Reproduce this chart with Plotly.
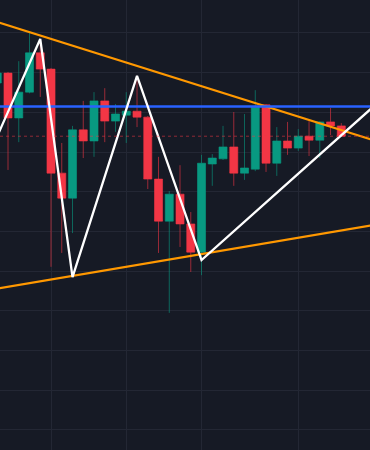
import numpy as np
import plotly.graph_objects as go

# Candle index and OHLC values
idx = list(range(33))
open_ = [187.4, 189.9, 178.6, 185.1, 195.0, 190.9, 164.7, 158.4, 175.6, 172.8,
         182.9, 177.8, 179.3, 180.3, 178.8, 163.2, 152.6, 159.4, 151.9, 144.8,
         167.0, 168.3, 171.3, 164.7, 165.7, 181.9, 167.2, 172.8, 171.0, 174.0,
         173.0, 177.6, 176.6]
high = [190.7, 190.2, 192.9, 200.2, 198.5, 191.2, 172.3, 176.6, 182.9, 185.1,
        186.1, 182.1, 185.1, 189.2, 179.1, 168.8, 160.2, 166.7, 154.9, 169.3,
        169.5, 176.6, 180.1, 179.6, 185.6, 182.1, 176.3, 177.6, 175.8, 177.8,
        177.8, 181.1, 177.3]
low = [186.6, 165.5, 172.5, 184.8, 183.9, 141.1, 144.6, 149.6, 168.5, 168.8,
       172.5, 175.1, 172.3, 176.3, 160.7, 144.6, 129.5, 146.1, 139.8, 139.0,
       161.5, 168.0, 161.5, 163.0, 165.2, 165.0, 164.0, 169.3, 170.3, 169.0,
       168.5, 174.3, 173.8]
close = [189.9, 178.6, 185.1, 195.0, 190.9, 164.7, 158.4, 175.6, 172.8, 182.9,
         177.8, 179.6, 180.3, 178.8, 163.2, 152.6, 159.4, 151.9, 144.8, 167.2,
         168.5, 171.3, 164.7, 166.0, 181.3, 167.2, 172.8, 171.0, 174.0, 173.0,
         177.6, 176.6, 174.0]

# Zigzag (white) pivot points
zz_x = [0, 4, 7, 13, 19, 35]
zz_y = [174.0, 198.5, 138.5, 189.2, 142.8, 181.5]

# Trendline anchors
upper_x = [3, 25]
upper_y = [200.2, 181.5]
lower_x = [7, 19]
lower_y = [138.8, 144.3]

# Horizontal level
level = 181.5

# grid positions
x_grid = [5, 12, 19, 28]

BG = "#161a25"
GRID = "#232734"
UP = "#089981"
DN = "#f23645"
UP_W = "rgba(8,153,129,0.6)"
DN_W = "rgba(242,54,69,0.6)"

def extend(xs, ys, x0=-3, x1=38):
    m = (ys[1] - ys[0]) / (xs[1] - xs[0])
    xx = np.array([x0, x1], dtype=float)
    return xx, ys[0] + m * (xx - xs[0])

fig = go.Figure()

fig.add_trace(go.Candlestick(
    x=idx, open=open_, high=high, low=low, close=close,
    increasing=dict(line=dict(color=UP_W, width=1), fillcolor=UP),
    decreasing=dict(line=dict(color=DN_W, width=1), fillcolor=DN),
    whiskerwidth=0, hoverinfo="skip", showlegend=False,
))

# last price dotted line
fig.add_hline(y=close[-1], line=dict(color="rgba(242,54,69,0.55)", width=1, dash="dot"))

ux, uy = extend(upper_x, upper_y)
lx, ly = extend(lower_x, lower_y)
fig.add_trace(go.Scatter(x=ux, y=uy, mode="lines", line=dict(color="#ff9800", width=2.2),
                         hoverinfo="skip", showlegend=False))
fig.add_trace(go.Scatter(x=lx, y=ly, mode="lines", line=dict(color="#ff9800", width=2.2),
                         hoverinfo="skip", showlegend=False))
fig.add_trace(go.Scatter(x=[-3, 38], y=[level, level], mode="lines",
                         line=dict(color="#2962ff", width=2.5),
                         hoverinfo="skip", showlegend=False))
fig.add_trace(go.Scatter(x=zz_x, y=zz_y, mode="lines", line=dict(color="#ffffff", width=2.3),
                         hoverinfo="skip", showlegend=False))

fig.update_layout(
    width=370, height=450,
    margin=dict(l=0, r=0, t=0, b=0),
    paper_bgcolor=BG, plot_bgcolor=BG,
    boxgap=0.25, boxgroupgap=0,
    showlegend=False,
    xaxis=dict(range=[0.256, 34.67], rangeslider=dict(visible=False),
               tickmode="array", tickvals=x_grid, showticklabels=False,
               showgrid=True, gridcolor=GRID, gridwidth=1, zeroline=False,
               showline=False, fixedrange=True),
    yaxis=dict(range=[94.96, 208.31], tick0=100, dtick=10, showticklabels=False,
               showgrid=True, gridcolor=GRID, gridwidth=1, zeroline=False,
               showline=False, fixedrange=True),
)

page_fix = ("document.body.style.margin='0';document.body.style.padding='0';"
            "document.body.style.overflow='hidden';"
            "document.body.style.background='" + BG + "';")

fig.write_html("out.html", config=dict(displayModeBar=False), post_script=page_fix)
